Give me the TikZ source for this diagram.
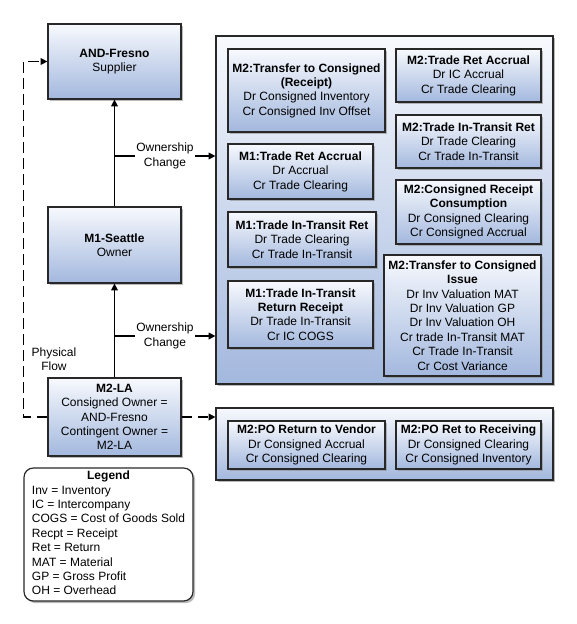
\documentclass[tikz,border=0pt]{standalone}
\usepackage{fontspec}
\setmainfont{Liberation Sans}
\usetikzlibrary{arrows.meta,shadows}
\definecolor{boxtop}{RGB}{247,249,253}
\definecolor{boxbot}{RGB}{163,184,222}
\definecolor{boxline}{RGB}{40,40,40}

\begin{document}
\begin{tikzpicture}[x=0.75pt,y=0.75pt,yscale=-1,xscale=1,
    box/.style={draw=boxline, line width=0.9pt, top color=boxtop, bottom color=boxbot,
      inner sep=0pt, align=center, font=\fontsize{9}{10.8}\selectfont,
      drop shadow={shadow xshift=1.6pt, shadow yshift=-1.6pt, fill=black!45, opacity=0.6}},
    legendbox/.style={draw=boxline, line width=0.9pt, fill=white, rounded corners=7pt,
      inner sep=0pt, font=\fontsize{9}{10.8}\selectfont,
      drop shadow={shadow xshift=1.6pt, shadow yshift=-1.6pt, fill=black!45, opacity=0.6}},
    lbl/.style={fill=white, inner sep=1pt, align=center, font=\fontsize{9}{10.8}\selectfont},
    flow/.style={line width=0.9pt, -{Triangle[length=5pt,width=5pt]}},
    phys/.style={flow, dash pattern={on 8pt off 4pt}}]
    \useasboundingbox (0,0) rectangle (576,624);

    %Shape: Rectangle [id:fresno]
    \node [box, minimum width=99.75pt, minimum height=56.25pt] (fresno) at (114.5,61.5) {\textbf{AND-Fresno}\\Supplier};
    %Shape: Rectangle [id:seattle]
    \node [box, minimum width=99.75pt, minimum height=57pt] (seattle) at (114.5,245) {\textbf{M1-Seattle}\\Owner};
    %Shape: Rectangle [id:la]
    \node [box, minimum width=99.75pt, minimum height=58.5pt] (la) at (114.5,417) {\textbf{M2-LA}\\Consigned Owner =\\AND-Fresno\\Contingent Owner =\\M2-LA};

    %Shape: Rectangle [id:ownbox]
    \node [box, minimum width=252.75pt, minimum height=261pt] (ownbox) at (384.5,210) {};
    %Shape: Rectangle [id:physbox]
    \node [box, minimum width=252.75pt, minimum height=54pt] (physbox) at (384.5,444) {};

    %Shape: Rectangle [id:rcpt]
    \node [box, minimum width=117.75pt, minimum height=62.25pt] (rcpt) at (306.5,90.5) {\textbf{M2:Transfer to Consigned}\\\textbf{(Receipt)}\\Dr Consigned Inventory\\Cr Consigned Inv Offset};
    %Shape: Rectangle [id:mtwoaccr]
    \node [box, minimum width=108.75pt, minimum height=39.75pt] (mtwoaccr) at (468.5,75.5) {\textbf{M2:Trade Ret Accrual}\\Dr IC Accrual\\Cr Trade Clearing};
    %Shape: Rectangle [id:mtwoitr]
    \node [box, minimum width=108.75pt, minimum height=39.75pt] (mtwoitr) at (468.5,141.5) {\textbf{M2:Trade In-Transit Ret}\\Dr Trade Clearing\\Cr Trade In-Transit};
    %Shape: Rectangle [id:moneaccr]
    \node [box, minimum width=108.75pt, minimum height=41.25pt] (moneaccr) at (300.5,171.5) {\textbf{M1:Trade Ret Accrual}\\Dr Accrual\\Cr Trade Clearing};
    %Shape: Rectangle [id:consump]
    \node [box, minimum width=108.75pt, minimum height=48pt] (consump) at (468.5,212) {\textbf{M2:Consigned Receipt}\\\textbf{Consumption}\\Dr Consigned Clearing\\Cr Consigned Accrual};
    %Shape: Rectangle [id:moneitr]
    \node [box, minimum width=111pt, minimum height=41.25pt] (moneitr) at (302,239.5) {\textbf{M1:Trade In-Transit Ret}\\Dr Trade Clearing\\Cr Trade In-Transit};
    %Shape: Rectangle [id:issue]
    \node [box, minimum width=117.75pt, minimum height=90.75pt] (issue) at (462.5,315.5) {\textbf{M2:Transfer to Consigned}\\\textbf{Issue}\\Dr Inv Valuation MAT\\Dr Inv Valuation GP\\Dr Inv Valuation OH\\Cr trade In-Transit MAT\\Cr Trade In-Transit\\Cr Cost Variance};
    %Shape: Rectangle [id:retrcpt]
    \node [box, minimum width=108.75pt, minimum height=50.25pt] (retrcpt) at (300.5,314.5) {\textbf{M1:Trade In-Transit}\\\textbf{Return Receipt}\\Dr Trade In-Transit\\Cr IC COGS};

    %Shape: Rectangle [id:vendor]
    \node [box, minimum width=117.75pt, minimum height=36pt] (vendor) at (306.5,445) {\textbf{M2:PO Return to Vendor}\\Dr Consigned Accrual\\Cr Consigned Clearing};
    %Shape: Rectangle [id:receiving]
    \node [box, minimum width=108.75pt, minimum height=36pt] (receiving) at (468.5,445) {\textbf{M2:PO Ret to Receiving}\\Dr Consigned Clearing\\Cr Consigned Inventory};

    %Shape: Rounded Rectangle [id:legend]
    \node [legendbox, minimum width=126.75pt, minimum height=99.75pt] (legend) at (108.5,534.5) {\begin{tabular}{@{}l@{}}
      \multicolumn{1}{@{}c@{}}{\textbf{Legend}}\\
      Inv = Inventory\\IC = Intercompany\\COGS = Cost of Goods Sold\\Recpt = Receipt\\Ret = Return\\MAT = Material\\GP = Gross Profit\\OH = Overhead
    \end{tabular}};

    %Straight Lines [id:upone]
    \draw [flow] (seattle) -- (fresno);
    %Straight Lines [id:uptwo]
    \draw [flow] (la) -- (seattle);
    \coordinate (ownone) at (114.5,156);
    \coordinate (owntwo) at (114.5,336);
    %Straight Lines [id:changeone]
    \draw [flow] (ownone) -- node [lbl] {Ownership\\Change} (ownone -| ownbox.west);
    %Straight Lines [id:changetwo]
    \draw [flow] (owntwo) -- node [lbl] {Ownership\\Change} (owntwo -| ownbox.west);
    %Straight Lines [id:physflow]
    \draw [phys] (la.west) -- ++(-24,0) |- (fresno.west);
    %Straight Lines [id:physout]
    \draw [phys] (la.east) -- (la.east -| physbox.west);

    % Text Node
    \node [align=center, font=\fontsize{9}{10.8}\selectfont] (physlbl) at (54,359) {Physical\\Flow};

\end{tikzpicture}
\end{document}
